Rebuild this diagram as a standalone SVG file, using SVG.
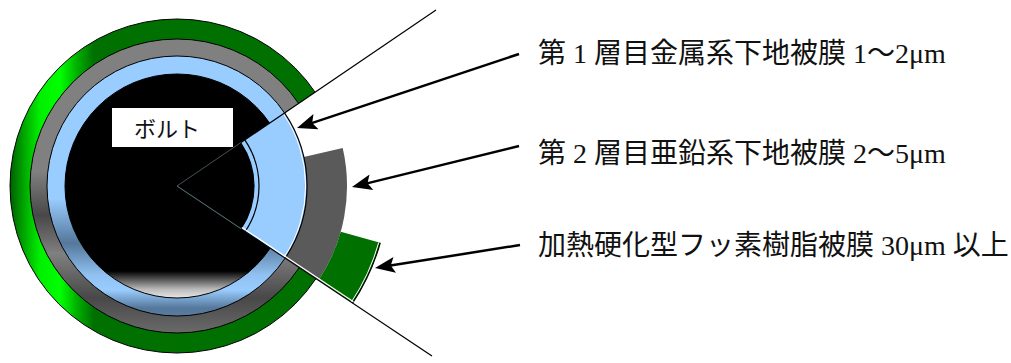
<svg xmlns="http://www.w3.org/2000/svg" width="1011" height="363" viewBox="0 0 1011 363">
  <style>
    .ring { stroke: #000; stroke-width: 1; }
    .cut { stroke: #000; stroke-width: 1.2; fill: none; }
    .edge { stroke: #000; stroke-width: 1.2; fill: none; }
    .shine { stroke: #fff; stroke-width: 1; fill: none; }
    .label { font-family: "Liberation Serif", "Noto Sans CJK JP", serif; font-size: 28px; fill: #111; }
    .tag { font-family: "Noto Sans CJK JP", "Noto Sans", sans-serif; font-size: 22px; fill: #111; }
    .arrow { stroke: #000; stroke-width: 2.5; fill: none; marker-end: url(#head); }
  </style>
  <defs>
    <marker id="head" viewBox="-15 -9 22 18" refX="0" refY="0" markerWidth="22" markerHeight="18" markerUnits="userSpaceOnUse" orient="auto">
      <path d="M6,0 L-14,-8 L-10,0 L-14,8 Z" fill="#000"/>
    </marker>
    <linearGradient id="gGreen" gradientUnits="userSpaceOnUse" x1="10" y1="0" x2="345" y2="0">
      <stop offset="0" stop-color="#006000"/>
      <stop offset="0.05" stop-color="#00b400"/>
      <stop offset="0.09" stop-color="#00f000"/>
      <stop offset="0.15" stop-color="#00ff00"/>
      <stop offset="0.2" stop-color="#00b000"/>
      <stop offset="0.25" stop-color="#007000"/>
      <stop offset="1" stop-color="#007000"/>
    </linearGradient>
    <linearGradient id="gGray" gradientUnits="userSpaceOnUse" x1="0" y1="39" x2="0" y2="333">
      <stop offset="0" stop-color="#808080"/>
      <stop offset="0.45" stop-color="#808080"/>
      <stop offset="0.6" stop-color="#484848"/>
      <stop offset="0.73" stop-color="#808080"/>
      <stop offset="0.88" stop-color="#484848"/>
      <stop offset="1" stop-color="#6a6a6a"/>
    </linearGradient>
    <linearGradient id="gBlue" gradientUnits="userSpaceOnUse" x1="0" y1="56" x2="0" y2="316">
      <stop offset="0" stop-color="#99ccff"/>
      <stop offset="0.55" stop-color="#99ccff"/>
      <stop offset="0.72" stop-color="#55779a"/>
      <stop offset="0.84" stop-color="#8fc0f0"/>
      <stop offset="0.9" stop-color="#99ccff"/>
      <stop offset="0.97" stop-color="#55779a"/>
      <stop offset="1" stop-color="#5a7ca0"/>
    </linearGradient>
    <linearGradient id="gCore" gradientUnits="userSpaceOnUse" x1="0" y1="74" x2="0" y2="298">
      <stop offset="0" stop-color="#000"/>
      <stop offset="0.88" stop-color="#000"/>
      <stop offset="0.96" stop-color="#b8b8b8"/>
      <stop offset="1" stop-color="#e8e8e8"/>
    </linearGradient>
  </defs>

  <!-- bolt cross-section with coating rings -->
  <g id="bolt-section">
    <circle class="ring" cx="177" cy="186" r="167" fill="url(#gGreen)"/>
    <circle class="ring" cx="177" cy="186" r="147" fill="url(#gGray)"/>
    <circle class="ring" cx="177" cy="186" r="130" fill="url(#gBlue)"/>
    <circle class="ring" cx="177" cy="186" r="112" fill="url(#gCore)"/>

    <!-- cut-away wedge -->
    <polygon points="177,186 383.8,45.5 440,100 440,280 385,324.7" fill="#fff"/>

    <!-- enlarged layers inside the wedge -->
    <path d="M303.72,156.97 L342.72,148.04 A170,170 0 0 1 318.44,280.32 L285.16,258.12 A130,130 0 0 0 303.72,156.97 Z" fill="#5a5a5a"/>
    <path d="M340.74,231.71 L380.24,242.74 A211,211 0 0 1 352.55,303.06 L318.44,280.32 A170,170 0 0 0 340.74,231.71 Z" fill="#007000"/>
    <path d="M177,186 L284.52,112.93 A130,130 0 0 1 285.16,258.12 Z" fill="#99ccff"/>
    <path d="M177,186 L240.69,142.72 A77,77 0 0 1 241.06,228.72 Z" fill="#000"/>
    <path class="edge" d="M244.82,139.91 A82,82 0 0 1 245.22,231.49"/>
    <path class="edge" d="M240.69,142.72 A77,77 0 0 1 241.06,228.72"/>
    <path class="shine" d="M283.4,113.7 A128.6,128.6 0 0 1 284.0,257.3"/>
    <path class="edge" d="M284.52,112.93 A130,130 0 0 1 285.16,258.12"/>
    <path class="shine" d="M378.8,242.3 A209.5,209.5 0 0 1 351.3,302.2"/>
    <path class="edge" d="M380.24,242.74 A211,211 0 0 1 352.55,303.06"/>
  </g>

  <g id="bolt-tag">
    <rect x="112" y="108" width="121" height="39" fill="#fff"/>
    <text class="tag" x="134" y="137">ボルト</text>
  </g>

  <g id="label-layer1">
    <text class="label" x="538" y="63">第 1 層目金属系下地被膜 1～2μm</text>
  </g>
  <g id="label-layer2">
    <text class="label" x="538" y="163">第 2 層目亜鉛系下地被膜 2～5μm</text>
  </g>
  <g id="label-layer3">
    <text class="label" x="538" y="255">加熱硬化型フッ素樹脂被膜 30μm 以上</text>
  </g>

  <!-- cut lines and leader arrows -->
  <g id="connectors">
    <line class="cut" x1="177" y1="186" x2="436" y2="10"/>
    <line class="cut" x1="177" y1="186" x2="432" y2="356"/>
    <line x1="177" y1="186" x2="240.69" y2="142.72" stroke="#44504f" stroke-width="1"/>
    <line x1="177" y1="186" x2="241.06" y2="228.72" stroke="#5a7a80" stroke-width="1"/>
    <line x1="241.9" y1="227.5" x2="353.4" y2="301.8" stroke="#fff" stroke-width="1.2"/>
    <path class="arrow" d="M519,54 L302.7,126.1"/>
    <path class="arrow" d="M519,146 L357.8,185.6"/>
    <path class="arrow" d="M520,245 L380.9,267.1"/>
  </g>
</svg>
